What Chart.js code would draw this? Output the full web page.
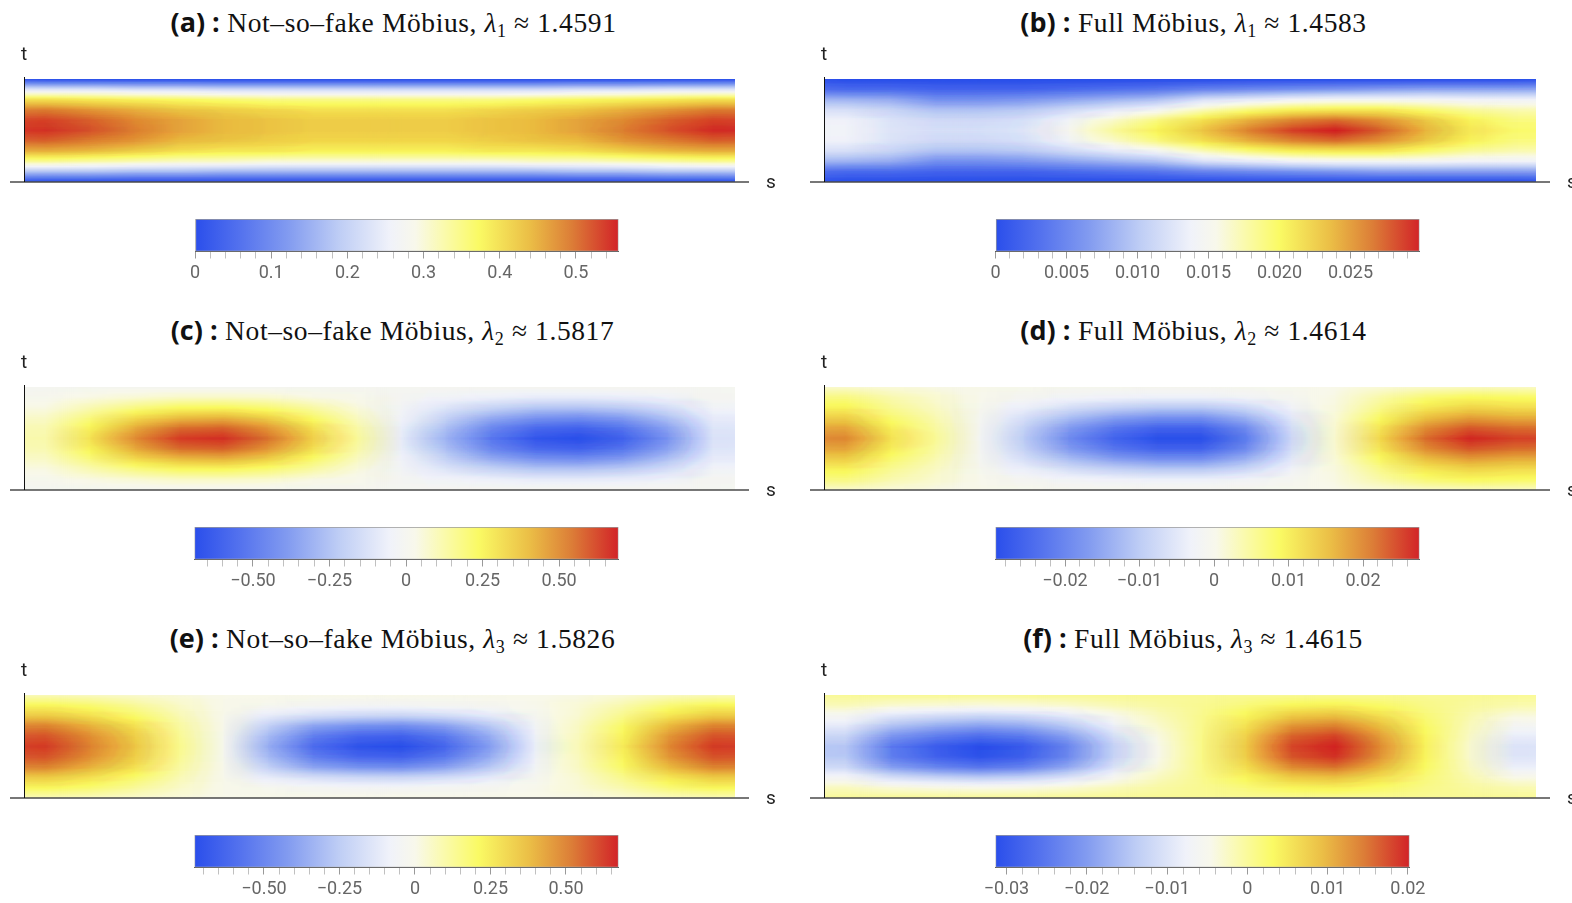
<!DOCTYPE html>
<html>
<head>
<meta charset="utf-8">
<title>Möbius eigenfunctions</title>
<script src="https://cdn.jsdelivr.net/npm/chart.js@4.4.1/dist/chart.umd.min.js"></script>
<style>
  body { margin: 0; background: #fff; }
  #page { position: relative; width: 1572px; height: 903px; overflow: hidden; background: #fff; }
  .ttl { position: absolute; transform: translate(-50%, -50%); white-space: nowrap;
         font-family: 'Liberation Serif', serif; font-size: 27.5px; color: #111; letter-spacing: 0.6px; }
  .ttl b { font-family: 'Open Sans', sans-serif; font-weight: 700; font-size: 27px; letter-spacing: 0; }
  .ttl i { font-style: italic; }
  .ttl sub { font-size: 18px; vertical-align: -5px; line-height: 0; }
  canvas { position: absolute; }
</style>
</head>
<body>
<div id="page"></div>
<script>
// grid rows: t from top edge (1) to bottom edge (0)
const tLevels = [1, 0.9, 0.8, 0.7, 0.6, 0.5, 0.4, 0.3, 0.2, 0.1, 0];
// 16 slices along s
const sCols = ['1','2','3','4','5','6','7','8','9','10','11','12','13','14','15','16'];

// each inner array = one s-column, values from t=1 down to t=0
const fieldA = [
  [.01,.23,.40,.49,.53,.54,.51,.45,.34,.18,.01],
  [.01,.23,.39,.47,.51,.52,.49,.44,.33,.18,.01],
  [.01,.22,.38,.45,.48,.49,.47,.42,.32,.17,.01],
  [.01,.22,.37,.43,.46,.46,.44,.40,.31,.17,.01],
  [.01,.21,.36,.42,.44,.44,.43,.39,.31,.16,.01],
  [.01,.21,.35,.41,.43,.43,.42,.39,.30,.16,.01],
  [.01,.21,.35,.40,.42,.42,.41,.38,.30,.16,.01],
  [.01,.21,.35,.40,.42,.42,.41,.38,.30,.16,.01],
  [.01,.21,.35,.40,.42,.42,.41,.38,.30,.16,.01],
  [.01,.21,.35,.40,.42,.42,.41,.38,.30,.16,.01],
  [.01,.21,.35,.41,.43,.43,.42,.39,.30,.16,.01],
  [.01,.21,.36,.42,.44,.44,.43,.39,.31,.16,.01],
  [.01,.22,.37,.43,.46,.46,.44,.40,.31,.17,.01],
  [.01,.22,.38,.45,.48,.49,.47,.42,.32,.17,.01],
  [.01,.23,.39,.47,.51,.52,.49,.44,.33,.18,.01],
  [.01,.23,.40,.49,.53,.545,.51,.45,.34,.18,.01]
];
const fieldB = [
  [.0005,.0030,.0085,.0120,.0138,.0140,.0138,.0120,.0085,.0030,.0005],
  [.0005,.0030,.0080,.0110,.0123,.0125,.0123,.0110,.0080,.0030,.0005],
  [.0005,.0025,.0060,.0095,.0115,.0120,.0115,.0095,.0060,.0025,.0005],
  [.0005,.0025,.0060,.0095,.0115,.0120,.0115,.0095,.0060,.0025,.0005],
  [.0005,.0025,.0065,.0100,.0120,.0125,.0120,.0100,.0065,.0025,.0005],
  [.0005,.0030,.0075,.0115,.0140,.0150,.0140,.0115,.0075,.0030,.0005],
  [.0005,.0035,.0085,.0130,.0165,.0180,.0165,.0130,.0085,.0035,.0005],
  [.0005,.0040,.0095,.0145,.0190,.0205,.0190,.0145,.0095,.0040,.0005],
  [.0005,.0050,.0120,.0170,.0215,.0230,.0215,.0170,.0120,.0050,.0005],
  [.0005,.0055,.0130,.0190,.0240,.0260,.0240,.0190,.0130,.0055,.0005],
  [.0005,.0060,.0140,.0205,.0260,.0285,.0260,.0205,.0140,.0060,.0005],
  [.0005,.0065,.0145,.0210,.0270,.0298,.0270,.0210,.0145,.0065,.0005],
  [.0005,.0070,.0145,.0210,.0255,.0275,.0255,.0210,.0145,.0070,.0005],
  [.0005,.0075,.0145,.0195,.0230,.0240,.0230,.0195,.0145,.0070,.0005],
  [.0005,.0075,.0140,.0180,.0205,.0210,.0205,.0180,.0140,.0070,.0005],
  [.0005,.0075,.0140,.0173,.0190,.0195,.0190,.0173,.0140,.0070,.0005]
];
const fieldC = [
  [0,.01,.04,.08,.11,.12,.11,.08,.04,.01,0],
  [0,.04,.11,.19,.26,.30,.26,.19,.11,.04,0],
  [0,.06,.18,.32,.44,.50,.44,.32,.18,.06,0],
  [0,.08,.23,.40,.56,.64,.56,.40,.23,.08,0],
  [0,.08,.24,.42,.58,.66,.58,.42,.24,.08,0],
  [0,.07,.20,.35,.48,.55,.48,.35,.20,.07,0],
  [0,.04,.13,.22,.31,.35,.31,.22,.13,.04,0],
  [0,.02,.05,.09,.13,.15,.13,.09,.05,.02,0],
  [0,-.01,-.03,-.05,-.07,-.08,-.07,-.05,-.03,-.01,0],
  [0,-.04,-.11,-.19,-.26,-.30,-.26,-.19,-.11,-.04,0],
  [0,-.06,-.18,-.32,-.44,-.50,-.44,-.32,-.18,-.06,0],
  [0,-.08,-.23,-.40,-.55,-.63,-.55,-.40,-.23,-.08,0],
  [0,-.08,-.24,-.42,-.58,-.66,-.58,-.42,-.24,-.08,0],
  [0,-.07,-.21,-.37,-.51,-.58,-.51,-.37,-.21,-.07,0],
  [0,-.05,-.14,-.25,-.35,-.40,-.35,-.25,-.14,-.05,0],
  [0,-.01,-.04,-.08,-.11,-.12,-.11,-.08,-.04,-.01,0]
];
const fieldD = [
  [.0020,.0066,.0096,.0136,.0176,.0200,.0176,.0136,.0096,.0066,.0020],
  [.0012,.0038,.0055,.0078,.0101,.0115,.0101,.0078,.0055,.0038,.0012],
  [.0006,.0018,.0026,.0037,.0048,.0055,.0048,.0037,.0026,.0018,.0006],
  [0,-.0002,-.0005,-.0010,-.0013,-.0015,-.0013,-.0010,-.0005,-.0002,0],
  [-.0002,-.0012,-.0036,-.0064,-.0088,-.0100,-.0088,-.0064,-.0036,-.0012,-.0002],
  [-.0004,-.0022,-.0067,-.0118,-.0163,-.0185,-.0163,-.0118,-.0067,-.0022,-.0004],
  [-.0005,-.0029,-.0088,-.0157,-.0216,-.0245,-.0216,-.0157,-.0088,-.0029,-.0005],
  [-.0006,-.0034,-.0101,-.0179,-.0246,-.0280,-.0246,-.0179,-.0101,-.0034,-.0006],
  [-.0006,-.0034,-.0101,-.0179,-.0246,-.0279,-.0246,-.0179,-.0101,-.0034,-.0006],
  [-.0004,-.0025,-.0076,-.0134,-.0185,-.0210,-.0185,-.0134,-.0076,-.0025,-.0004],
  [-.0002,-.0010,-.0029,-.0051,-.0070,-.0080,-.0070,-.0051,-.0029,-.0010,-.0002],
  [.0002,.0007,.0010,.0014,.0018,.0020,.0018,.0014,.0010,.0007,.0002],
  [.0013,.0041,.0060,.0085,.0110,.0125,.0110,.0085,.0060,.0041,.0013],
  [.0022,.0073,.0106,.0150,.0194,.0220,.0194,.0150,.0106,.0073,.0022],
  [.0027,.0088,.0129,.0182,.0236,.0268,.0236,.0182,.0129,.0088,.0027],
  [.0025,.0083,.0120,.0170,.0220,.0250,.0220,.0170,.0120,.0083,.0025]
];
const fieldE = [
  [.07,.22,.34,.50,.58,.62,.58,.50,.34,.22,.07],
  [.06,.18,.28,.40,.47,.50,.47,.40,.28,.18,.06],
  [.04,.12,.19,.28,.33,.35,.33,.28,.19,.12,.04],
  [.02,.05,.08,.11,.13,.14,.13,.11,.08,.05,.02],
  [0,0,-.01,-.01,-.02,-.02,-.02,-.01,-.01,0,0],
  [0,-.02,-.11,-.23,-.31,-.35,-.31,-.23,-.11,-.02,0],
  [0,-.04,-.17,-.38,-.51,-.58,-.51,-.38,-.17,-.04,0],
  [0,-.05,-.20,-.44,-.60,-.68,-.60,-.44,-.20,-.05,0],
  [0,-.05,-.21,-.46,-.62,-.70,-.62,-.46,-.21,-.05,0],
  [0,-.04,-.18,-.39,-.53,-.60,-.53,-.39,-.18,-.04,0],
  [0,-.03,-.12,-.26,-.35,-.40,-.35,-.26,-.12,-.03,0],
  [0,-.01,-.03,-.07,-.09,-.10,-.09,-.07,-.03,-.01,0],
  [.01,.03,.04,.06,.07,.08,.07,.06,.04,.03,.01],
  [.03,.09,.14,.20,.23,.25,.23,.20,.14,.09,.03],
  [.06,.17,.26,.38,.45,.48,.45,.38,.26,.17,.06],
  [.07,.22,.34,.50,.58,.62,.58,.50,.34,.22,.07]
];
const fieldF = [
  [0,-.0019,-.0057,-.0090,-.0122,-.0145,-.0141,-.0116,-.0065,-.0022,0],
  [0,-.0031,-.0094,-.0149,-.0202,-.0240,-.0233,-.0192,-.0108,-.0036,0],
  [0,-.0036,-.0109,-.0174,-.0235,-.0280,-.0272,-.0224,-.0126,-.0042,0],
  [0,-.0040,-.0119,-.0189,-.0256,-.0305,-.0296,-.0244,-.0137,-.0046,0],
  [0,-.0037,-.0111,-.0177,-.0239,-.0285,-.0276,-.0228,-.0128,-.0043,0],
  [0,-.0029,-.0088,-.0140,-.0189,-.0225,-.0218,-.0180,-.0101,-.0034,0],
  [0,-.0017,-.0051,-.0081,-.0109,-.0130,-.0126,-.0104,-.0059,-.0020,0],
  [0,-.0007,-.0020,-.0031,-.0042,-.0050,-.0049,-.0040,-.0023,-.0008,0],
  [0,.0002,.0005,.0007,.0009,.0010,.0010,.0008,.0005,.0002,0],
  [0,.0016,.0036,.0056,.0072,.0080,.0076,.0060,.0036,.0016,0],
  [0,.0035,.0079,.0123,.0158,.0175,.0166,.0131,.0079,.0035,0],
  [0,.0040,.0089,.0139,.0178,.0198,.0188,.0149,.0089,.0040,0],
  [0,.0026,.0059,.0091,.0117,.0130,.0124,.0098,.0059,.0026,0],
  [0,.0008,.0018,.0028,.0036,.0040,.0038,.0030,.0018,.0008,0],
  [0,-.0004,-.0012,-.0019,-.0025,-.0030,-.0029,-.0024,-.0014,-.0005,0],
  [0,-.0013,-.0039,-.0062,-.0084,-.0100,-.0097,-.0080,-.0045,-.0015,0]
];

// colour bar ranges, major tick values and labels
const rangeA = [0, 0.5558],      ticksA = [0, 0.1, 0.2, 0.3, 0.4, 0.5],
      labelsA = ['0', '0.1', '0.2', '0.3', '0.4', '0.5'];
const rangeB = [0, 0.02986],     ticksB = [0, 0.005, 0.010, 0.015, 0.020, 0.025],
      labelsB = ['0', '0.005', '0.010', '0.015', '0.020', '0.025'];
const rangeC = [-0.691, 0.694],  ticksC = [-0.5, -0.25, 0, 0.25, 0.5],
      labelsC = ['\u22120.50', '\u22120.25', '0', '0.25', '0.50'];
const rangeD = [-0.02933, 0.02758], ticksD = [-0.02, -0.01, 0, 0.01, 0.02],
      labelsD = ['\u22120.02', '\u22120.01', '0', '0.01', '0.02'];
const rangeE = [-0.730, 0.674],  ticksE = [-0.5, -0.25, 0, 0.25, 0.5],
      labelsE = ['\u22120.50', '\u22120.25', '0', '0.25', '0.50'];
const rangeF = [-0.03137, 0.0202], ticksF = [-0.03, -0.02, -0.01, 0, 0.01, 0.02],
      labelsF = ['\u22120.03', '\u22120.02', '\u22120.01', '0', '0.01', '0.02'];

const tags = ['a', 'b', 'c', 'd', 'e', 'f'];
const names = ['Not\u2013so\u2013fake Möbius', 'Full Möbius', 'Not\u2013so\u2013fake Möbius',
               'Full Möbius', 'Not\u2013so\u2013fake Möbius', 'Full Möbius'];
const lambdaIdx = [1, 1, 2, 2, 3, 3];
const lambdaVal = ['1.4591', '1.4583', '1.5817', '1.4614', '1.5826', '1.4615'];

// colour map: fraction, r, g, b
const cmap = [
  [0.00, 42, 78, 235], [0.11, 85, 115, 238], [0.22, 130, 155, 240],
  [0.34, 190, 205, 245], [0.46, 240, 242, 250], [0.52, 248, 248, 235],
  [0.58, 250, 250, 180], [0.67, 250, 250, 100], [0.79, 235, 190, 70],
  [0.89, 220, 125, 55], [1.00, 210, 35, 40]
];

function cmapColor(f) {
  f = Math.max(0, Math.min(1, f));
  for (let i = 1; i < cmap.length; i++) {
    if (f <= cmap[i][0]) {
      const a = cmap[i - 1], b = cmap[i], u = (f - a[0]) / (b[0] - a[0]);
      const c = [1, 2, 3].map(k => Math.round(a[k] + (b[k] - a[k]) * u));
      return `rgb(${c[0]},${c[1]},${c[2]})`;
    }
  }
  return 'rgb(210,35,40)';
}

const panels = [
  { field: fieldA, range: rangeA, ticks: ticksA, labels: labelsA, minor: 0.02,  hm: [24, 79, 735, 182],   cb: [195, 219, 618.5],    title: [393.5, 21] },
  { field: fieldB, range: rangeB, ticks: ticksB, labels: labelsB, minor: 0.001, hm: [824, 79, 1536, 182], cb: [995.5, 219, 1419.5], title: [1193.5, 21] },
  { field: fieldC, range: rangeC, ticks: ticksC, labels: labelsC, minor: 0.05,  hm: [24, 387, 735, 490],  cb: [194.5, 527, 618.5],  title: [392.5, 329] },
  { field: fieldD, range: rangeD, ticks: ticksD, labels: labelsD, minor: 0.002, hm: [824, 387, 1536, 490], cb: [995.5, 527, 1419.5], title: [1193.5, 329] },
  { field: fieldE, range: rangeE, ticks: ticksE, labels: labelsE, minor: 0.05,  hm: [24, 695, 735, 798],  cb: [194.5, 835, 618.5],  title: [392.5, 637] },
  { field: fieldF, range: rangeF, ticks: ticksF, labels: labelsF, minor: 0.002, hm: [824, 695, 1536, 798], cb: [995.5, 835, 1409.5], title: [1193, 637] }
];

const page = document.getElementById('page');

function addCanvas(x, y, w, h) {
  const cv = document.createElement('canvas');
  cv.width = w; cv.height = h;
  cv.style.left = x + 'px'; cv.style.top = y + 'px';
  cv.style.width = w + 'px'; cv.style.height = h + 'px';
  page.appendChild(cv);
  return cv;
}

// vertical gradient for one s-column of the field
function columnGradient(ctx, p) {
  const area = ctx.chart.chartArea;
  if (!area || ctx.dataIndex === undefined || !isFinite(area.top)) return 'transparent';
  const col = p.field[ctx.dataIndex];
  const span = p.range[1] - p.range[0];
  const g = ctx.chart.ctx.createLinearGradient(0, area.top, 0, area.bottom);
  const n = col.length - 1;
  for (let k = 0; k < n; k++) {
    for (let q = 0; q < 4; q++) {
      const v = col[k] + (col[k + 1] - col[k]) * q / 4;
      g.addColorStop((k + q / 4) / n, cmapColor((v - p.range[0]) / span));
    }
  }
  g.addColorStop(1, cmapColor((col[n] - p.range[0]) / span));
  return g;
}

// horizontal gradient of the colour bar, over its full width
function barGradient(ctx) {
  const area = ctx.chart.chartArea;
  if (!area || !isFinite(area.left) || !isFinite(area.right)) return 'transparent';
  const g = ctx.chart.ctx.createLinearGradient(area.left, 0, area.right, 0);
  cmap.forEach(s => g.addColorStop(s[0], `rgb(${s[1]},${s[2]},${s[3]})`));
  return g;
}

// soften the column steps along s
const smoothS = {
  id: 'smoothS',
  afterDatasetsDraw(chart) {
    const a = chart.chartArea, c = chart.ctx;
    const w = a.right - a.left, h = a.bottom - a.top;
    const off = document.createElement('canvas');
    off.width = Math.ceil(w); off.height = Math.ceil(h);
    off.getContext('2d').drawImage(chart.canvas, a.left, a.top, w, h, 0, 0, w, h);
    const colW = w / chart.data.labels.length, n = 24;
    c.save();
    c.beginPath(); c.rect(a.left, a.top, w, h); c.clip();
    for (let i = 0; i < n; i++) {
      c.globalAlpha = 1 / (i + 1);
      c.drawImage(off, a.left - colW / 2 + colW * i / (n - 1), a.top, w, h);
    }
    c.restore();
  }
};

// s / t axes drawn as plain lines
const stripAxes = {
  id: 'stripAxes',
  afterDraw(chart) {
    const a = chart.chartArea, c = chart.ctx;
    c.save();
    c.strokeStyle = '#4a4a4a'; c.lineWidth = 1.6;
    c.beginPath(); c.moveTo(a.left - 14, a.bottom); c.lineTo(a.right + 14, a.bottom); c.stroke();
    c.strokeStyle = '#111'; c.lineWidth = 1;
    c.beginPath(); c.moveTo(a.left + 0.5, a.top - 2); c.lineTo(a.left + 0.5, a.bottom); c.stroke();
    c.fillStyle = '#222'; c.font = '19px Roboto, sans-serif';
    c.textAlign = 'center'; c.textBaseline = 'middle';
    c.fillText('t', a.left, a.top - 24);
    c.textAlign = 'left';
    c.fillText('s', a.right + 31, a.bottom + 1);
    c.restore();
  }
};

function heatmap(p, i) {
  const x0 = (i % 2) * 786, y0 = p.hm[1] - 40, w = 786, h = 163;
  const cv = addCanvas(x0, y0, w, h);
  new Chart(cv, {
    type: 'bar',
    data: {
      labels: sCols,
      datasets: [{
        data: p.field.map(() => [tLevels[tLevels.length - 1], tLevels[0]]),
        backgroundColor: ctx => columnGradient(ctx, p),
        borderWidth: 0,
        barPercentage: 1,
        categoryPercentage: 1
      }]
    },
    options: {
      responsive: false,
      animation: false,
      events: [],
      layout: { padding: { left: p.hm[0] - x0, top: p.hm[1] - y0, right: x0 + w - p.hm[2], bottom: y0 + h - p.hm[3] } },
      scales: {
        x: { display: false },
        y: { display: false, min: 0, max: 1 }
      },
      plugins: { legend: { display: false }, tooltip: { enabled: false } }
    },
    plugins: [smoothS, stripAxes]
  });
}

function isMajor(p, v) {
  return p.ticks.findIndex(m => Math.abs(m - v) < p.minor / 10);
}

function colorbar(p) {
  const x0 = Math.round(p.cb[0] - 30), y0 = p.cb[1] - 6;
  const w = Math.round(p.cb[2] + 30) - x0, h = 72;
  const cv = addCanvas(x0, y0, w, h);
  new Chart(cv, {
    type: 'bar',
    data: {
      labels: [''],
      datasets: [{
        data: [p.range],
        backgroundColor: barGradient,
        borderColor: '#9a9a9a',
        borderWidth: 1,
        borderSkipped: false,
        barPercentage: 1,
        categoryPercentage: 1
      }]
    },
    options: {
      indexAxis: 'y',
      responsive: false,
      animation: false,
      events: [],
      layout: { padding: { left: p.cb[0] - x0, right: x0 + w - p.cb[2], top: 6, bottom: 1 } },
      scales: {
        x: {
          type: 'linear', min: p.range[0], max: p.range[1],
          afterBuildTicks: scale => {
            const out = [];
            for (let k = Math.ceil(p.range[0] / p.minor - 1e-6); k * p.minor <= p.range[1] + 1e-9; k++) {
              out.push({ value: +(k * p.minor).toFixed(6) });
            }
            scale.ticks = out;
          },
          grid: {
            drawOnChartArea: false, tickLength: 7,
            tickColor: ctx => (ctx.tick && isMajor(p, ctx.tick.value) >= 0) ? '#999' : '#c0c0c0'
          },
          border: { display: true, color: '#5a5a5a', width: 1 },
          ticks: {
            autoSkip: false, maxRotation: 0, padding: 4, color: '#666',
            font: { family: 'Roboto', size: 18 },
            callback: v => { const k = isMajor(p, v); return k >= 0 ? p.labels[k] : ''; }
          }
        },
        y: { display: false }
      },
      plugins: { legend: { display: false }, tooltip: { enabled: false } }
    }
  });
}

function title(p, i) {
  const d = document.createElement('div');
  d.className = 'ttl';
  d.style.left = p.title[0] + 'px';
  d.style.top = p.title[1] + 'px';
  d.innerHTML = `<b>(${tags[i]})&nbsp;:</b>&nbsp;${names[i]}, <i>λ</i><sub>${lambdaIdx[i]}</sub>&nbsp;≈&nbsp;${lambdaVal[i]}`;
  page.appendChild(d);
}

panels.forEach((p, i) => {
  title(p, i);
  heatmap(p, i);
  colorbar(p);
});
</script>
</body>
</html>
